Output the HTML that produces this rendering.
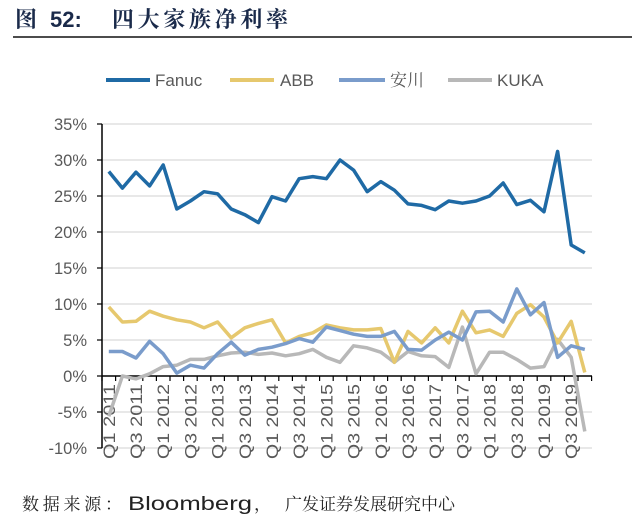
<!DOCTYPE html>
<html><head><meta charset="utf-8"><style>
body{margin:0;background:#fff;width:640px;height:523px;overflow:hidden;font-family:"Liberation Sans","Noto Sans CJK SC",sans-serif}
</style></head><body>
<svg id="s" width="640" height="523" xmlns="http://www.w3.org/2000/svg" font-family="Liberation Sans, Noto Sans CJK SC, sans-serif">
<g font-size="22" font-weight="bold" fill="#1a2a4a" font-family="Noto Serif CJK SC, Liberation Serif, serif">
<text x="15" y="27">图</text>
<text x="50" y="27" font-family="Liberation Sans">52:</text>
<text x="112" y="27" textLength="176" lengthAdjust="spacing">四大家族净利率</text>
</g>
<line x1="13" y1="37" x2="632" y2="37" stroke="#111" stroke-width="1.5"/>
<g font-size="17" fill="#595959">
<line x1="106" y1="80" x2="150" y2="80" stroke="#1f6aa5" stroke-width="4"/><text x="155" y="86">Fanuc</text>
<line x1="230" y1="80" x2="274" y2="80" stroke="#e6c86e" stroke-width="4"/><text x="280" y="86">ABB</text>
<line x1="339" y1="80" x2="385" y2="80" stroke="#7a9ccb" stroke-width="4"/><text x="390" y="86" font-family="Noto Serif CJK SC, serif">安川</text>
<line x1="448" y1="80" x2="492" y2="80" stroke="#b8b8b8" stroke-width="4"/><text x="497" y="86">KUKA</text>
</g>
<g id="g"></g>
<g font-size="17" fill="#222" font-family="Noto Serif CJK SC, serif">
<text x="22" y="510" textLength="100" lengthAdjust="spacing">数据来源：</text>
<text x="128" y="510" font-family="Liberation Sans" font-size="19" textLength="124" lengthAdjust="spacingAndGlyphs">Bloomberg</text>
<text x="254" y="510">，</text>
<text x="285" y="510" textLength="170" lengthAdjust="spacing">广发证券发展研究中心</text>
</g>
</svg>
<script>
var g=document.getElementById('g'),h='';
function Y(p){return 376-p*7.2;}
for(var v=35;v>=-10;v-=5){var y=Y(v);
 if(v!=0)h+='<line x1="102" y1="'+y+'" x2="592" y2="'+y+'" stroke="#d9d9d9" stroke-width="1.2"/>';
 h+='<line x1="97" y1="'+y+'" x2="102" y2="'+y+'" stroke="#000" stroke-width="1.2"/>';
 h+='<text x="87" y="'+(y+6)+'" font-size="16.5" fill="#595959" text-anchor="end">'+v+'%</text>';}
h+='<line x1="102" y1="124" x2="102" y2="448" stroke="#000" stroke-width="1.5"/>';
h+='<line x1="102" y1="376" x2="592" y2="376" stroke="#000" stroke-width="1.5"/>';
for(var i=0;i<=36;i++){var x=102+13.6*i;h+='<line x1="'+x+'" y1="376" x2="'+x+'" y2="381" stroke="#000" stroke-width="1.2"/>';}
for(var i=0;i<36;i+=2){var x=108.8+13.6*i+6;var lab='Q'+(i%4==0?1:3)+' '+(2011+Math.floor(i/4));
 h+='<text transform="translate('+x+',384) rotate(-90)" font-size="17" fill="#595959" text-anchor="end" textLength="75" lengthAdjust="spacingAndGlyphs">'+lab+'</text>';}
var D={
'#b8b8b8':[-5.6,0,-0.4,0.3,1.3,1.5,2.3,2.3,2.8,3.2,3.3,3,3.2,2.8,3.1,3.7,2.6,1.9,4.2,3.9,3.3,1.9,3.4,2.8,2.7,1.2,6.8,0.3,3.3,3.3,2.3,1.1,1.3,5.1,2.6,-7.7],
'#e6c86e':[9.6,7.5,7.6,9,8.3,7.8,7.5,6.7,7.5,5.3,6.7,7.3,7.8,4.6,5.5,6,7.1,6.7,6.4,6.4,6.6,1.9,6.2,4.6,6.7,4.6,9,6,6.4,5.5,8.7,9.9,8.2,4.6,7.6,0.5],
'#7a9ccb':[3.4,3.4,2.5,4.8,3.1,0.4,1.5,1.1,3.1,4.7,2.9,3.7,4,4.5,5.2,4.7,6.8,6.3,5.8,5.5,5.5,6.2,3.7,3.6,5,6.1,5,8.9,9,7.5,12.1,8.5,10.2,2.6,4.2,3.7],
'#1f6aa5':[28.4,26.1,28.3,26.4,29.3,23.2,24.3,25.6,25.3,23.2,22.4,21.3,24.9,24.3,27.4,27.7,27.4,30,28.6,25.6,27,25.8,23.9,23.7,23.1,24.3,24,24.3,25,26.8,23.8,24.4,22.8,31.2,18.2,17.1]};
for(var c in D){var p=D[c].map(function(v,i){return (108.8+13.6*i).toFixed(1)+','+Y(v).toFixed(1)}).join(' ');
 h+='<polyline points="'+p+'" fill="none" stroke="'+c+'" stroke-width="3.5" stroke-linejoin="round"/>';}
g.innerHTML=h;
</script>
</body></html>
